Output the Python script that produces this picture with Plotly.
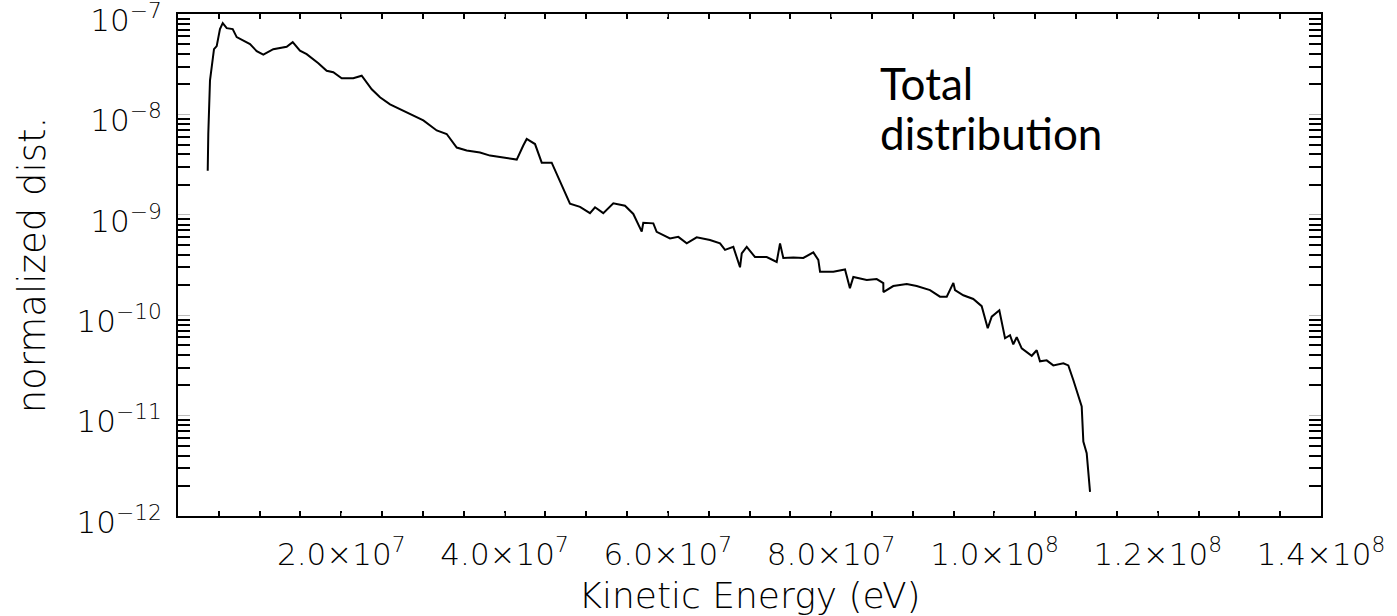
import plotly.graph_objects as go

# Kinetic energy in MeV (converted to eV below) and normalized distribution
energy_MeV = [3.64, 3.71, 3.92, 4.13, 4.41, 4.74, 5.14, 5.48, 5.97, 6.70, 7.19, 8.82, 9.64,
              10.45, 11.67, 13.31, 14.05, 14.94, 15.76, 17.19, 18.21, 19.02, 20.05, 21.47,
              22.50, 23.73, 24.74, 25.97, 27.19, 28.42, 30.05, 31.69, 32.91, 34.14, 35.36,
              36.99, 38.22, 39.84, 41.49, 42.29, 42.71, 43.73, 44.55, 45.77, 46.79, 48.01,
              49.24, 50.46, 51.08, 52.09, 53.32, 54.75, 55.77, 56.80, 56.99, 58.22, 58.63,
              60.26, 61.28, 62.31, 63.53, 65.16, 66.39, 67.00, 68.02, 68.84, 69.05, 69.66,
              70.67, 72.11, 73.33, 73.74, 74.14, 75.37, 76.59, 77.82, 78.43, 78.64, 80.27,
              81.70, 82.30, 82.72, 84.36, 85.58, 86.39, 86.40, 87.61, 89.26, 90.48, 92.11,
              93.33, 94.16, 94.97, 95.17, 96.19, 97.41, 98.44, 99.18, 99.67, 100.60, 101.30,
              101.91, 102.31, 102.73, 103.34, 104.57, 105.18, 105.58, 106.40, 107.21,
              108.44, 109.05, 109.66, 110.28, 110.69, 110.89, 111.30, 111.71]
dist = [2.75e-9, 6.38e-9, 2.19e-8, 2.95e-8, 4.47e-8, 4.79e-8, 7.08e-8, 8.13e-8, 7.24e-8,
        7.08e-8, 5.89e-8, 5.01e-8, 4.27e-8, 3.94e-8, 4.47e-8, 4.73e-8, 5.25e-8, 4.32e-8,
        3.98e-8, 3.24e-8, 2.72e-8, 2.63e-8, 2.29e-8, 2.29e-8, 2.43e-8, 1.78e-8, 1.48e-8,
        1.26e-8, 1.13e-8, 1.02e-8, 8.71e-9, 6.92e-9, 6.38e-9, 4.68e-9, 4.37e-9, 4.17e-9,
        3.89e-9, 3.72e-9, 3.55e-9, 4.90e-9, 5.69e-9, 5.07e-9, 3.31e-9, 3.31e-9, 2.19e-9,
        1.29e-9, 1.20e-9, 1.04e-9, 1.19e-9, 1.04e-9, 1.30e-9, 1.23e-9, 1.02e-9, 6.80e-10,
        8.32e-10, 8.22e-10, 6.76e-10, 5.82e-10, 6.03e-10, 5.19e-10, 5.96e-10, 5.62e-10,
        5.19e-10, 4.47e-10, 4.79e-10, 3.00e-10, 4.12e-10, 4.79e-10, 3.80e-10, 3.80e-10,
        3.39e-10, 5.19e-10, 3.72e-10, 3.76e-10, 3.72e-10, 4.22e-10, 3.55e-10, 2.71e-10,
        2.71e-10, 2.85e-10, 1.86e-10, 2.40e-10, 2.24e-10, 2.29e-10, 2.09e-10, 1.70e-10,
        1.95e-10, 2.04e-10, 1.95e-10, 1.78e-10, 1.53e-10, 1.53e-10, 2.10e-10, 1.78e-10,
        1.58e-10, 1.45e-10, 1.23e-10, 7.41e-11, 9.66e-11, 1.12e-10, 5.89e-11, 6.31e-11,
        5.13e-11, 6.03e-11, 4.68e-11, 3.94e-11, 4.47e-11, 3.47e-11, 3.55e-11, 3.16e-11,
        3.31e-11, 3.16e-11, 2.26e-11, 1.55e-11, 1.23e-11, 5.50e-12, 4.22e-12, 1.74e-12]

x_tickvals = [2.0e7, 4.0e7, 6.0e7, 8.0e7, 1.0e8, 1.2e8, 1.4e8]
x_ticktext = ["2.0×10<sup>7</sup>", "4.0×10<sup>7</sup>", "6.0×10<sup>7</sup>",
              "8.0×10<sup>7</sup>", "1.0×10<sup>8</sup>", "1.2×10<sup>8</sup>",
              "1.4×10<sup>8</sup>"]
y_tickvals = [1e-12, 1e-11, 1e-10, 1e-9, 1e-8, 1e-7]
y_ticktext = ["10<sup>−12</sup>", "10<sup>−11</sup>", "10<sup>−10</sup>",
              "10<sup>−9</sup>", "10<sup>−8</sup>", "10<sup>−7</sup>"]
mantissas = [2, 3, 4, 5, 6, 7, 8, 9]
y_minor = [m * d for d in y_tickvals[:-1] for m in mantissas]

energy_eV = [e * 1e6 for e in energy_MeV]

AXFONT = dict(family="DejaVu Sans ExtraLight, DejaVu Sans", size=31, color="black", weight=300)
XTITLEFONT = dict(family="DejaVu Sans ExtraLight, DejaVu Sans", size=36, color="black", weight=300)
YTITLEFONT = dict(family="DejaVu Sans ExtraLight, DejaVu Sans", size=37, color="black", weight=300)
NOTEFONT = dict(family="Lato", size=44, color="black", weight=400)

fig = go.Figure()
fig.add_trace(go.Scatter(x=energy_eV, y=dist, mode="lines",
                         line=dict(color="black", width=2), showlegend=False))

fig.update_layout(
    width=1397, height=616,
    margin=dict(l=178, r=76, t=14, b=100, autoexpand=False),
    paper_bgcolor="white", plot_bgcolor="white",
    font=AXFONT,
)
fig.update_xaxes(
    range=[0, 1.4e8], showgrid=False, zeroline=False, automargin=False,
    showline=True, linecolor="black", linewidth=2, mirror="ticks",
    tickmode="array", tickvals=x_tickvals, ticktext=x_ticktext,
    ticks="inside", ticklen=3, tickcolor="#999999", tickwidth=1,
    ticklabelstandoff=10, ticklabeloverflow="allow",
    tickfont=AXFONT,
    minor=dict(tickmode="linear", tick0=0, dtick=5e6, ticks="inside", ticklen=5,
               tickcolor="black", tickwidth=1.5, showgrid=False),
    title=dict(text="Kinetic Energy (eV)", font=XTITLEFONT, standoff=14),
)
fig.update_yaxes(
    type="log", range=[-12.0005, -6.9995], showgrid=False, zeroline=False, automargin=False,
    showline=True, linecolor="black", linewidth=2, mirror="ticks",
    tickmode="array", tickvals=y_tickvals, ticktext=y_ticktext,
    ticks="inside", ticklen=12, tickcolor="#bbbbbb", tickwidth=1,
    ticklabelstandoff=8, ticklabeloverflow="allow", ticklabelshift=6,
    tickfont=AXFONT,
    minor=dict(tickmode="array", tickvals=y_minor, ticks="inside", ticklen=12,
               tickcolor="black", tickwidth=1.5, showgrid=False),
    title=dict(text="normalized dist.", font=YTITLEFONT, standoff=20),
)

fig.add_annotation(text="Total", xref="paper", yref="paper", x=0.6124, y=0.862,
                   xanchor="left", yanchor="middle", showarrow=False, font=NOTEFONT)
fig.add_annotation(text="distribution", xref="paper", yref="paper", x=0.6124, y=0.762,
                   xanchor="left", yanchor="middle", showarrow=False, font=NOTEFONT)

fig.write_html("out.html")
